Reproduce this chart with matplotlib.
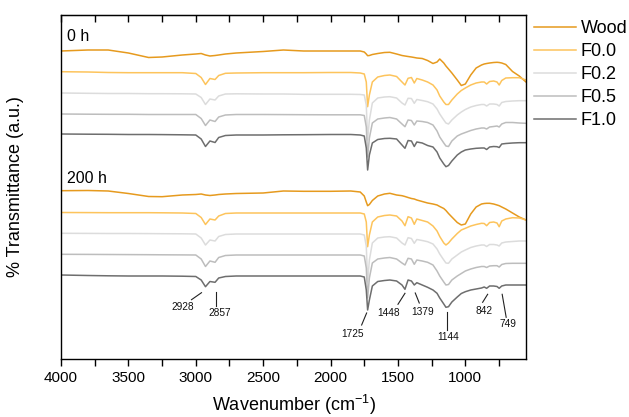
import matplotlib
matplotlib.use('Agg')
import matplotlib.pyplot as plt
import numpy as np

plt.rcParams['font.family'] = ['Liberation Sans', 'DejaVu Sans']
plt.rcParams['mathtext.default'] = 'regular'

# wavenumber grid (cm-1), same for every spectrum
wn = [4000, 3800, 3650, 3500, 3350, 3250, 3100, 3000, 2960, 2928,
      2895, 2857, 2830, 2780, 2700, 2500, 2350, 2200, 2000, 1850,
      1780, 1750, 1735, 1725, 1712, 1690, 1650, 1600, 1560, 1510,
      1470, 1448, 1425, 1400, 1379, 1360, 1320, 1280, 1240, 1210,
      1190, 1160, 1144, 1125, 1100, 1060, 1030, 1000, 960, 920,
      880, 860, 842, 820, 790, 765, 749, 730, 700, 650,
      600, 550]

labels = ['Wood', 'F0.0', 'F0.2', 'F0.5', 'F1.0']
colors = ['#E69A1E', '#FDC45C', '#DCDCDC', '#BDBDBD', '#6E6E6E']

# 0 h spectra (stacked, a.u.)
wood_0h = [308, 309, 309, 306, 301.5, 302, 304, 305, 305.5, 304,
           303, 303.5, 304, 305, 306, 307.5, 309, 308, 308, 308,
           308, 307, 305, 303.3, 303.5, 304.5, 305.5, 306.5, 306.7, 305,
           303.5, 303, 302.5, 302, 301.5, 301, 300.5, 298.5, 295.5, 297,
           300, 296, 293, 290, 286, 279, 273.5, 275, 284, 291,
           294, 295, 295.5, 296, 296.5, 296.7, 296.5, 296, 294.5, 287.5,
           283, 277]
f00_0h = [287.3, 287, 286.5, 286.3, 286.3, 286.3, 286.3, 285.5, 281.5, 274.5,
          280.5, 279.5, 283.5, 285.7, 286, 286.3, 286.3, 286.3, 286.5, 286.5,
          286, 285, 277, 252.3, 264, 277, 282, 283.5, 284, 282.5,
          277, 274, 280.7, 281.5, 276, 280.5, 279, 277, 274, 269,
          263, 257, 254.5, 254.5, 259, 265, 268.5, 271, 274, 276,
          277, 277, 275, 277.5, 278, 277, 274, 278.5, 281, 281.3,
          281.3, 279]
f02_0h = [266, 265.7, 265.5, 265.5, 265.3, 265.3, 265.2, 265, 261.5, 254.5,
          260, 259, 263, 265, 265.2, 265, 265, 264.7, 264.7, 264.7,
          264.5, 264, 254, 219, 239, 256, 261, 262, 262.3, 261,
          256, 254, 260.7, 260.5, 255.7, 259.5, 258.5, 257.3, 255, 250,
          245, 239, 236, 235, 239, 244, 247, 249.5, 252, 253.5,
          254.5, 254.5, 253, 255, 255, 254.5, 253, 256.5, 257.5, 258,
          258.3, 258.3]
f05_0h = [245, 244.8, 244.7, 244.7, 244.5, 244.5, 244.5, 244.5, 240.5, 233.5,
          239, 237.5, 242, 244, 244.5, 244.5, 244.4, 244.3, 244.2, 244.2,
          244.2, 243.5, 232, 202, 221, 236, 240, 241, 241.5, 240,
          235, 232.3, 239, 238.5, 234, 238, 237.5, 236.5, 234, 228,
          222, 216, 213, 212.5, 218, 223, 225, 226.5, 228.5, 230,
          231, 231, 230, 232, 232.5, 233, 232, 235, 236.5, 236.5,
          236, 235.7]
f10_0h = [225, 224.8, 224.7, 224.5, 224.5, 224.4, 224.2, 224, 220, 212.5,
          218, 216.5, 221.5, 223.5, 224, 224, 224.2, 224.3, 224.5, 224.5,
          224, 223, 211, 189, 204, 216, 219.5, 220.5, 220.7, 220,
          214, 210.7, 218.5, 218, 212.5, 217, 216, 213.5, 212, 207,
          201, 195, 192.3, 193.5, 198, 204, 207, 209, 210, 210.7,
          211, 211, 209.5, 212, 212.5, 212.3, 211.5, 215, 215.5, 216,
          216.3, 216.3]

# 200 h spectra (stacked, a.u.)
wood_200h = [168.3, 168.5, 168, 165.5, 162.5, 162.3, 164, 164.5, 165, 164,
             163.5, 164, 164.5, 165, 165.5, 166, 168, 167.7, 167.7, 168,
             167, 163, 157, 153.3, 154.5, 158.5, 163, 165, 165.7, 164,
             163.3, 162.5, 161.5, 160.5, 160, 159, 157.5, 156, 155, 154,
             152.5, 150.5, 148.5, 145.5, 142, 136.5, 134, 135, 145, 152,
             155, 155.5, 155.7, 155.7, 155, 154, 153.3, 152, 150, 146,
             142, 139]
f00_200h = [146.5, 146.4, 146.3, 146.3, 146.3, 146.2, 146, 145.5, 141.5, 134.5,
            140, 139, 143, 145.5, 146, 146, 146, 146, 146, 146,
            146, 145, 137, 112.3, 124, 137, 142, 143.5, 144, 143,
            138, 133.3, 142.3, 141, 134.7, 140, 138.5, 137, 133, 128,
            122.5, 116, 114, 116, 120, 125.5, 129, 130.7, 133, 134.5,
            135.7, 135.5, 133.3, 136.5, 137, 136, 132.3, 138, 140, 141.3,
            141, 139]
f02_200h = [125.7, 125.6, 125.5, 125.5, 125.4, 125.3, 125.2, 125, 121, 114,
            119, 118, 122.5, 124.5, 125, 125, 125, 125, 125, 125,
            125, 124, 113, 77, 99, 116, 121, 122, 122.3, 121,
            116, 114, 121.3, 120.5, 115.7, 119.5, 118.5, 117.3, 115, 110,
            105, 99, 96, 95.7, 100, 104, 107, 109, 111.5, 113,
            114, 114, 112.5, 114.5, 114.5, 114, 113, 116, 117, 117.5,
            118, 118]
f05_200h = [104.7, 104.6, 104.5, 104.4, 104.3, 104.2, 104.1, 104, 100, 92.5,
            98, 96.7, 101.5, 103.5, 104, 104, 104, 104, 104, 104,
            104, 103, 91, 61, 81, 96, 100, 101, 101.5, 100,
            96, 94, 100.7, 100, 94.7, 99, 98, 96.7, 94, 88,
            83, 77, 74, 74.5, 79, 83, 85.5, 88, 90, 91.5,
            92.5, 92.5, 91.5, 93, 93.3, 93.3, 92, 94.5, 95.5, 95.7,
            95.7, 95.7]
f10_200h = [84, 83.5, 83.2, 83, 83, 83, 82.8, 82.5, 79, 72.3,
            77.5, 76.7, 81, 82.5, 83, 83, 83, 83, 83, 83,
            83, 82, 69, 49, 59, 73, 77.5, 78.5, 79, 78,
            74, 69.7, 79, 78, 74, 76.3, 74, 71.7, 69, 65.7,
            61, 55, 51.7, 52.3, 57, 62, 65.5, 67.3, 69, 70,
            71, 72, 70.7, 73, 73, 72.5, 70.7, 73, 74, 74,
            74, 74]

peaks = [2928, 2857, 1725, 1448, 1379, 1144, 842, 749]
# offsets in pixels from the peak on the F1.0 200 h curve: line start, line end, text centre
peak_offsets = [((-4, 6), (-14, 13), (-23, 20)),
                ((1, 10), (1, 24), (5, 31)),
                ((-1, 3), (-6, 15), (-15, 24)),
                ((0, 4), (-7, 15), (-16, 24)),
                ((1, 8), (5, 18), (8, 27)),
                ((1, 5), (1, 23), (2, 30)),
                ((1, 6), (-4, 14), (-3, 23)),
                ((3, 6), (7, 29), (9, 36))]

fig = plt.figure(figsize=(6.29, 4.17), dpi=100)
ax = fig.add_axes([61 / 629, 1 - 359 / 417, 465 / 629, 344 / 417])

set_0h = [wood_0h, f00_0h, f02_0h, f05_0h, f10_0h]
set_200h = [wood_200h, f00_200h, f02_200h, f05_200h, f10_200h]
for i in range(5):
    ax.plot(wn, set_0h[i], color=colors[i], lw=1.1, label=labels[i])
for i in range(5):
    ax.plot(wn, set_200h[i], color=colors[i], lw=1.1)

ax.set_xlim(4000, 550)
ax.set_ylim(0, 344)

wn_per_px = 3450 / 465
for pk, (p0, p1, pt) in zip(peaks, peak_offsets):
    yc = np.interp(pk, wn[::-1], f10_200h[::-1])
    ax.plot([pk - p0[0] * wn_per_px, pk - p1[0] * wn_per_px],
            [yc - p0[1], yc - p1[1]], color='#222222', lw=0.8)
    ax.text(pk - pt[0] * wn_per_px, yc - pt[1], str(pk), fontsize=7.3,
            ha='center', va='center', color='#111111')

ax.text(4000 - 6 * wn_per_px, 359 - 36.5, '0 h', fontsize=11.5, ha='left', va='center')
ax.text(4000 - 6 * wn_per_px, 359 - 178.5, '200 h', fontsize=11.5, ha='left', va='center')

ax.set_xticks(np.arange(4000, 999, -500))
ax.set_xticks(np.arange(3750, 549, -250), minor=True)
ax.set_yticks([])
ax.tick_params(axis='x', which='both', direction='out', length=5, width=1,
               labelsize=11, top=False)
sec = ax.secondary_xaxis('top')
sec.set_xticks(np.arange(4000, 549, -250))
sec.tick_params(direction='in', length=5, width=1, labeltop=False)
for s in ax.spines.values():
    s.set_linewidth(1.0)

ax.set_xlabel('Wavenumber (cm$^{-1}$)', fontsize=13)
ax.xaxis.set_label_coords(0.5, -0.098)
ax.set_ylabel('% Transmittance (a.u.)', fontsize=13)
ax.yaxis.set_label_coords(-0.08, 0.5)

fig.legend(loc='upper left', bbox_to_anchor=(534 / 629, 1 - 20 / 417),
           frameon=False, fontsize=13, handlelength=2.3, handletextpad=0.3,
           labelspacing=0.33, borderpad=0, borderaxespad=0)

fig.savefig('out.png', dpi=100)
